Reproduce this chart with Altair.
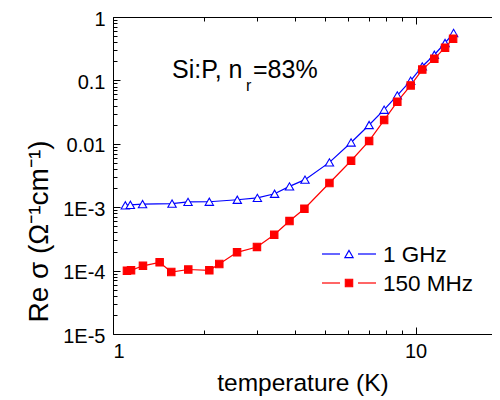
import altair as alt
import pandas as pd

SERIES = ["1 GHz", "150 MHz"]
COLORS = ["#0000ff", "#ff0000"]
FILLS = ["#ffffff", "#ff0000"]
SHAPES = ["triangle-up", "square"]

T_GHZ = [1.098, 1.141, 1.252, 1.567, 1.770, 2.081, 2.575, 3.00, 3.42, 3.83, 4.31,
         5.19, 6.12, 7.02, 7.87, 8.70, 9.63, 10.52, 11.53, 12.51, 13.35]
S_GHZ = [1.07e-3, 1.09e-3, 1.12e-3, 1.14e-3, 1.21e-3, 1.22e-3, 1.31e-3, 1.40e-3,
         1.63e-3, 2.13e-3, 2.72e-3, 5.09e-3, 1.05e-2, 1.98e-2, 3.45e-2, 5.80e-2,
         9.89e-2, 0.166, 0.254, 0.389, 0.56]
T_MHZ = [1.112, 1.147, 1.256, 1.426, 1.558, 1.773, 2.081, 2.245, 2.57, 2.99, 3.41,
         3.83, 4.29, 5.19, 6.12, 7.02, 7.87, 8.70, 9.63, 10.52, 11.53, 12.51, 13.3]
S_MHZ = [9.96e-5, 1.01e-4, 1.19e-4, 1.35e-4, 9.5e-5, 1.04e-4, 1.01e-4, 1.27e-4,
         1.94e-4, 2.36e-4, 3.68e-4, 6.05e-4, 9.47e-4, 2.41e-3, 5.41e-3, 1.11e-2,
         2.37e-2, 4.61e-2, 8.34e-2, 0.148, 0.22, 0.328, 0.455]

X_MAJOR = [1, 10]
X_MINOR = [2, 3, 4, 5, 6, 7, 8, 9]
X_LABELS = ["1", "10"]
Y_MAJOR = [1e-5, 1e-4, 1e-3, 1e-2, 1e-1, 1]
Y_LABELS = ["1E-5", "1E-4", "1E-3", "0.01", "0.1", "1"]
Y_MINOR = [k * d for d in [1e-5, 1e-4, 1e-3, 1e-2, 1e-1] for k in range(2, 10)]

ANNOT = ["Si:P, n", "r", "=83%"]
X_TITLE = "temperature (K)"
Y_TITLE = "Re  σ  (Ω⁻¹cm⁻¹)"

df = pd.DataFrame({
    "T": T_GHZ + T_MHZ,
    "S": S_GHZ + S_MHZ,
    "series": [SERIES[0]] * len(T_GHZ) + [SERIES[1]] * len(T_MHZ),
})
leg_df = pd.DataFrame({"series": SERIES, "row": [0, 1]})

FONT = "Liberation Sans"
W, H = 379, 317

xs = alt.Scale(type="log", domain=[1, 17.88], nice=False)
ys = alt.Scale(type="log", domain=[1e-5, 1], nice=False)

color = alt.Color("series:N", scale=alt.Scale(domain=SERIES, range=COLORS), legend=None)
stroke = alt.Stroke("series:N", scale=alt.Scale(domain=SERIES, range=COLORS), legend=None)
fill = alt.Fill("series:N", scale=alt.Scale(domain=SERIES, range=FILLS), legend=None)
shape = alt.Shape("series:N", scale=alt.Scale(domain=SERIES, range=SHAPES), legend=None)
msize = alt.condition("datum.series == '" + SERIES[0] + "'", alt.value(70), alt.value(55))

x_lab_expr = "[" + ",".join(f"'{s}'" for s in X_LABELS) + "][round(log(datum.value)/LN10)]"
y_lab_expr = "[" + ",".join(f"'{s}'" for s in Y_LABELS) + "][round(log(datum.value)/LN10)+5]"

x_main = alt.X("T:Q", scale=xs, axis=alt.Axis(
    orient="bottom", values=X_MAJOR, labelExpr=x_lab_expr, ticks=False, grid=False,
    domain=True, domainColor="black", domainWidth=1,
    labelFont=FONT, labelFontSize=20, labelColor="black",
    labelBaseline="alphabetic", labelPadding=23,
    title=X_TITLE, titleFont=FONT, titleFontSize=24.5, titleFontWeight="normal",
    titleColor="black", titleBaseline="alphabetic", titleY=56))
y_main = alt.Y("S:Q", scale=ys, axis=alt.Axis(
    orient="left", values=Y_MAJOR, labelExpr=y_lab_expr, ticks=False, grid=False,
    domain=True, domainColor="black", domainWidth=1,
    labelFont=FONT, labelFontSize=20, labelColor="black",
    labelBaseline="middle", labelPadding=8, labelOffset=2,
    title=Y_TITLE, titleFont=FONT, titleFontSize=28, titleFontWeight="normal",
    titleColor="black", titleBaseline="alphabetic", titleX=-66, titleY=214,
    titleAngle=270))

lines = alt.Chart(df).mark_line(strokeWidth=1.2).encode(
    x=x_main, y=y_main, color=color, detail="series:N")
points = alt.Chart(df).mark_point(opacity=1, strokeWidth=1.1, filled=False).encode(
    x="T:Q", y="S:Q", stroke=stroke, fill=fill, shape=shape, size=msize)
main = alt.layer(lines, points)


def tick_axis(orient, values, size):
    return alt.Axis(orient=orient, values=values, ticks=True, tickSize=size,
                    offset=-size, tickColor="black", tickWidth=1, labels=False,
                    domain=False, grid=False, title=None)


def tick_layer(xaxis, yaxis):
    return alt.Chart(df).mark_point(opacity=0).encode(
        x=alt.X("T:Q", scale=xs, axis=xaxis),
        y=alt.Y("S:Q", scale=ys, axis=yaxis))


t1 = tick_layer(tick_axis("bottom", X_MINOR, 4), tick_axis("left", Y_MINOR, 4))
t2 = tick_layer(tick_axis("bottom", X_MAJOR, 7), tick_axis("left", Y_MAJOR, 7))
t3 = tick_layer(tick_axis("top", X_MINOR, 4), None)
t4 = tick_layer(tick_axis("top", X_MAJOR, 7), None)
t5 = tick_layer(alt.Axis(orient="top", ticks=False, labels=False, domain=True,
                         domainColor="black", domainWidth=1, grid=False, title=None),
                None)

ly = alt.Y("row:Q", scale=alt.Scale(domain=[0, 1], range=[237, 266], nice=False), axis=None)
leg_l = alt.Chart(leg_df).mark_rule(strokeWidth=1.2).encode(
    x=alt.value(209), x2=alt.value(227), y=ly, color=color)
leg_r = alt.Chart(leg_df).mark_rule(strokeWidth=1.2).encode(
    x=alt.value(245), x2=alt.value(263), y=ly, color=color)
leg_p = alt.Chart(leg_df).mark_point(opacity=1, strokeWidth=1.1).encode(
    x=alt.value(236), y=ly, stroke=stroke, fill=fill, shape=shape, size=msize)
leg_t = alt.Chart(leg_df).mark_text(align="left", baseline="alphabetic", dy=8,
                                    font=FONT, fontSize=22.5, color="black").encode(
    x=alt.value(270), y=ly, text="series:N")

ann_df = pd.DataFrame({"t": ANNOT})
a1 = alt.Chart(ann_df.iloc[[0]]).mark_text(align="left", baseline="alphabetic", font=FONT,
                                          fontSize=25, color="black").encode(
    x=alt.value(59), y=alt.value(61), text="t:N")
a2 = alt.Chart(ann_df.iloc[[1]]).mark_text(align="left", baseline="alphabetic", font=FONT,
                                          fontSize=16, color="black").encode(
    x=alt.value(133), y=alt.value(74), text="t:N")
a3 = alt.Chart(ann_df.iloc[[2]]).mark_text(align="left", baseline="alphabetic", font=FONT,
                                          fontSize=25, color="black").encode(
    x=alt.value(140), y=alt.value(61), text="t:N")

chart = alt.layer(
    t1, t2, t3, t4, t5, main, leg_l, leg_r, leg_p, leg_t, a1, a2, a3
).resolve_scale(x="independent", y="independent").properties(
    width=W, height=H,
    autosize=alt.AutoSizeParams(type="none"),
    padding={"left": 105, "top": 9, "right": 0, "bottom": 62},
).configure_view(stroke=None).configure(background="white")

chart.save("out.html", embed_options={"renderer": "svg", "actions": False})
